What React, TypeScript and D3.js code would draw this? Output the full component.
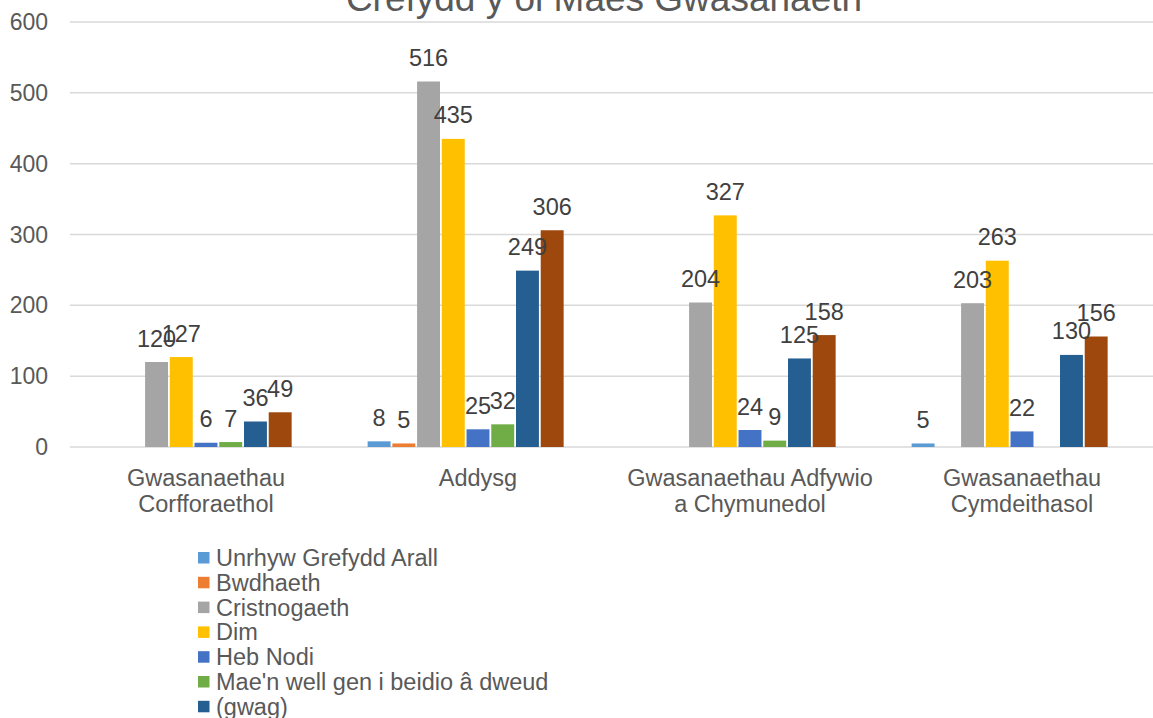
import { useEffect, useRef } from "react";
import * as d3 from "d3";

const categories = [
  "Gwasanaethau\nCorfforaethol",
  "Addysg",
  "Gwasanaethau Adfywio\na Chymunedol",
  "Gwasanaethau\nCymdeithasol",
];

const seriesNames = [
  "Unrhyw Grefydd Arall",
  "Bwdhaeth",
  "Cristnogaeth",
  "Dim",
  "Heb Nodi",
  "Mae'n well gen i beidio â dweud",
  "(gwag)",
  "Arall",
  "Islam",
];

const seriesColors = [
  "#5B9BD5",
  "#ED7D31",
  "#A5A5A5",
  "#FFC000",
  "#4472C4",
  "#70AD47",
  "#255E91",
  "#9E480E",
  "#636363",
];

// one array per series, in category order (null = no value)
const unrhywGrefydd = [null, 8, null, 5];
const bwdhaeth = [null, 5, null, null];
const cristnogaeth = [120, 516, 204, 203];
const dim = [127, 435, 327, 263];
const hebNodi = [6, 25, 24, 22];
const wellPeidio = [7, 32, 9, null];
const gwag = [36, 249, 125, 130];
const arall = [49, 306, 158, 156];
const islam = [null, null, null, null];

const seriesValues = [unrhywGrefydd, bwdhaeth, cristnogaeth, dim, hebNodi, wellPeidio, gwag, arall, islam];

const yTicks = [0, 100, 200, 300, 400, 500, 600];

const W = 1153;
const H = 718;

export default function App() {
  const svgRef = useRef<SVGSVGElement>(null);

  useEffect(() => {
    if (!svgRef.current) return;
    const svg = d3.select(svgRef.current);
    svg.selectAll("*").remove();

    const left = 70;
    const right = 1158;
    const top = 22;
    const bottom = 447;
    const font = "'Liberation Sans', Arial, sans-serif";

    const x0 = d3.scaleBand().domain(categories).range([left, right]).padding(0);
    const x1 = d3
      .scaleBand()
      .domain(seriesNames)
      .range([0, x0.bandwidth()])
      .paddingInner(0)
      .paddingOuter(1);
    const y = d3.scaleLinear().domain([0, 600]).range([bottom, top]);

    // Title (cut at top of the picture)
    svg.append("text")
      .attr("x", 604)
      .attr("y", 11)
      .attr("text-anchor", "middle")
      .style("font-family", font)
      .style("font-size", "37px")
      .style("fill", "#595959")
      .text("Crefydd y ol Maes Gwasanaeth");

    // Gridlines
    svg.append("g")
      .selectAll("line")
      .data(yTicks)
      .enter()
      .append("line")
      .attr("x1", left)
      .attr("x2", W)
      .attr("y1", d => y(d))
      .attr("y2", d => y(d))
      .attr("stroke", "#D9D9D9")
      .attr("stroke-width", 1.5);

    // Y axis labels
    svg.append("g")
      .selectAll("text")
      .data(yTicks)
      .enter()
      .append("text")
      .attr("x", 48)
      .attr("y", d => y(d) + 8)
      .attr("text-anchor", "end")
      .style("font-family", font)
      .style("font-size", "23px")
      .style("fill", "#595959")
      .text(d => d);

    // Bars + labels
    const bars: { cat: string; s: number; v: number }[] = [];
    categories.forEach((cat, ci) => {
      seriesValues.forEach((vals, si) => {
        const v = vals[ci];
        if (v !== null && v !== undefined) bars.push({ cat, s: si, v });
      });
    });

    const g = svg.append("g");
    g.selectAll("rect")
      .data(bars)
      .enter()
      .append("rect")
      .attr("x", d => (x0(d.cat) || 0) + (x1(seriesNames[d.s]) || 0) + 0.9)
      .attr("width", x1.bandwidth() - 1.8)
      .attr("y", d => y(d.v))
      .attr("height", d => y(0) - y(d.v))
      .attr("fill", d => seriesColors[d.s]);

    g.selectAll(".value-label")
      .data(bars)
      .enter()
      .append("text")
      .attr("class", "value-label")
      .attr("x", d => (x0(d.cat) || 0) + (x1(seriesNames[d.s]) || 0) + x1.bandwidth() / 2)
      .attr("y", d => y(d.v) - 15.5)
      .attr("text-anchor", "middle")
      .style("font-family", font)
      .style("font-size", "23.5px")
      .style("fill", "#404040")
      .text(d => d.v);

    // Category labels
    categories.forEach(cat => {
      const cx = (x0(cat) || 0) + x0.bandwidth() / 2;
      cat.split("\n").forEach((line, i) => {
        svg.append("text")
          .attr("x", cx)
          .attr("y", 486 + i * 26)
          .attr("text-anchor", "middle")
          .style("font-family", font)
          .style("font-size", "23.5px")
          .style("fill", "#595959")
          .text(line);
      });
    });

    // Legend
    const legend = svg.append("g");
    seriesNames.forEach((name, i) => {
      const ly = 552 + i * 24.8;
      legend.append("rect")
        .attr("x", 198)
        .attr("y", ly)
        .attr("width", 11.5)
        .attr("height", 11.5)
        .attr("fill", seriesColors[i]);
      legend.append("text")
        .attr("x", 216)
        .attr("y", ly + 14)
        .style("font-family", font)
        .style("font-size", "23.5px")
        .style("fill", "#595959")
        .text(name);
    });
  }, []);

  return (
    <svg
      ref={svgRef}
      width={W}
      height={H}
      style={{ position: "absolute", left: 0, top: 0, background: "#fff" }}
    />
  );
}
